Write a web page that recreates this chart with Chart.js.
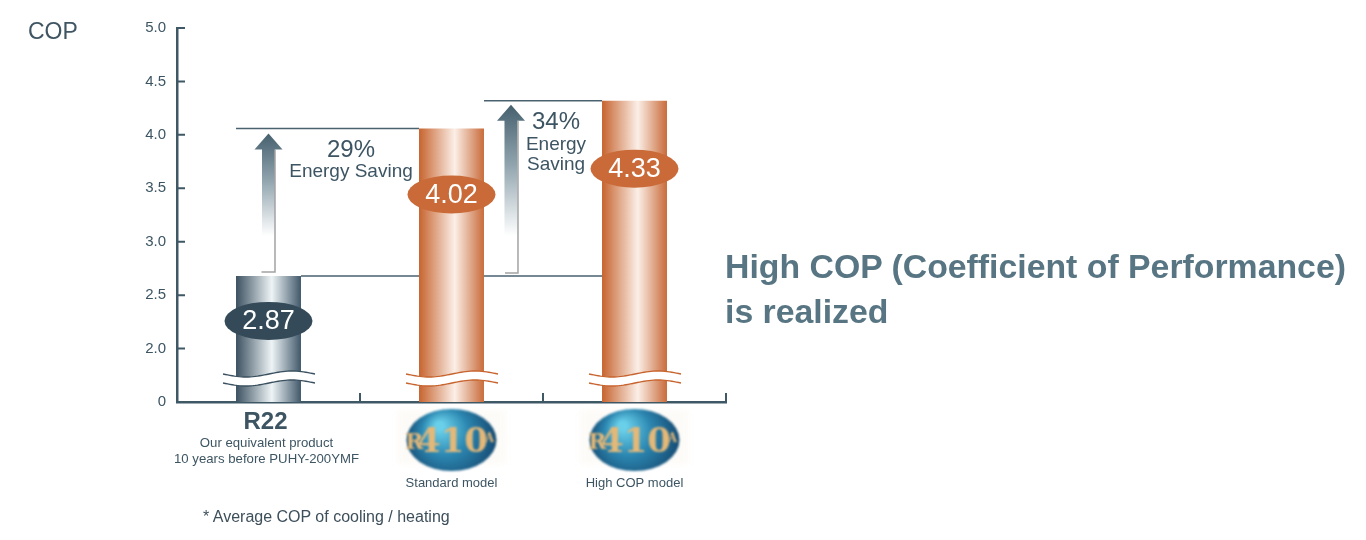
<!DOCTYPE html>
<html>
<head>
<meta charset="utf-8">
<script src="https://cdn.jsdelivr.net/npm/chart.js@4/dist/chart.umd.min.js"></script>
<style>
  html, body { margin: 0; padding: 0; background: #fff; }
  #wrap { position: relative; width: 1366px; height: 540px; overflow: hidden; font-family: "Liberation Sans", Arial, sans-serif; }
  #wrap canvas { position: absolute; left: 0; top: 0; }
  .copLabel { position: absolute; left: 28px; top: 18px; font-size: 23px; color: #3f5563; }
  .headline { position: absolute; left: 725px; top: 244px; font-size: 33.8px; font-weight: bold; color: #587583; line-height: 45px; white-space: nowrap; }
  .note { position: absolute; left: 203px; top: 508px; font-size: 16px; color: #3d4f5a; }
</style>
</head>
<body>
<div id="wrap">
  <canvas id="chart" width="1366" height="540"></canvas>
  <div class="copLabel">COP</div>
  <div class="headline">High COP (Coefficient of Performance)<br>is realized</div>
  <div class="note">* Average COP of cooling / heating</div>
</div>
<script>
// categories and values
const categories = ['R22', 'Standard model', 'High COP model'];
const subLabels = [['Our equivalent product', '10 years before PUHY-200YMF'], [], []];
const barValues = [2.68, 4.06, 4.32]; // bar heights as drawn in the picture
const copLabels = ['2.87', '4.02', '4.33'];
const yTicks = [1.5, 2.0, 2.5, 3.0, 3.5, 4.0, 4.5, 5.0];
const yTickLabels = ['0', '2.0', '2.5', '3.0', '3.5', '4.0', '4.5', '5.0'];
const savingTexts = [['29%', 'Energy Saving'], ['34%', 'Energy', 'Saving']];

const FONT = '"Liberation Sans", Arial, sans-serif';
const AXIS = '#3f5866';
const TEXT = '#3d5563';
const SLATE = ['#3b5160', '#eef4f6', '#40586a'];
const COPPER = ['#c7642f', '#fbefe7', '#c96b3a'];
const barColors = [SLATE, COPPER, COPPER];
const ovalColors = ['#344a59', '#c96a38', '#c96a38'];
const ovalOffsets = [45, 66, 68]; // px below bar top

function barBox(chart, i) {
    const x = chart.scales.x;
    const w = (x.right - x.left) / categories.length * 0.355;
    const cx = x.getPixelForValue(i);
    return { left: cx - w / 2, right: cx + w / 2, cx: cx, w: w };
}

function barFill(ctx) {
    const chart = ctx.chart;
    if (!chart.chartArea || !chart.scales.x) return barColors[ctx.dataIndex][0];
    const b = barBox(chart, ctx.dataIndex);
    const c = barColors[ctx.dataIndex];
    const g = chart.ctx.createLinearGradient(b.left, 0, b.right, 0);
    g.addColorStop(0, c[0]);
    g.addColorStop(0.55, c[1]);
    g.addColorStop(1, c[2]);
    return g;
}

function arrow(c, cx, tipY, fadeY) {
    const g = c.createLinearGradient(0, tipY, 0, fadeY);
    g.addColorStop(0, '#46606e');
    g.addColorStop(0.45, '#8fa3ad');
    g.addColorStop(1, 'rgba(255,255,255,1)');
    c.fillStyle = g;
    c.beginPath();
    c.moveTo(cx, tipY);
    c.lineTo(cx + 14, tipY + 16);
    c.lineTo(cx + 6.5, tipY + 16);
    c.lineTo(cx + 6.5, fadeY);
    c.lineTo(cx - 6.5, fadeY);
    c.lineTo(cx - 6.5, tipY + 16);
    c.lineTo(cx - 14, tipY + 16);
    c.closePath();
    c.fill();
}

const decorPlugin = {
    id: 'decor',
    beforeDatasetsDraw(chart) {
        const c = chart.ctx;
        const y = chart.scales.y;
        const b0 = barBox(chart, 0), b1 = barBox(chart, 1), b2 = barBox(chart, 2);
        const t0 = y.getPixelForValue(barValues[0]);
        const t1 = y.getPixelForValue(barValues[1]);
        const t2 = y.getPixelForValue(barValues[2]);
        c.save();
        // reference lines
        c.strokeStyle = '#4a6270';
        c.lineWidth = 1.5;
        c.beginPath();
        c.moveTo(b0.left, t1); c.lineTo(b1.left, t1);
        c.moveTo(b0.right, t0); c.lineTo(b2.left, t0);
        c.moveTo(b1.right, t2); c.lineTo(b2.left, t2);
        c.stroke();
        // arrows
        const a1 = b0.cx, a2 = b1.right + 27;
        arrow(c, a1, t1 + 5, 236);
        arrow(c, a2, t2 + 4, 236);
        // brackets
        c.strokeStyle = '#a3a3a3';
        c.lineWidth = 1.5;
        c.beginPath();
        c.moveTo(a1 + 6.5, t1 + 21); c.lineTo(a1 + 6.5, t0 - 4); c.lineTo(a1 - 7, t0 - 4);
        c.moveTo(a2 + 7, t2 + 20); c.lineTo(a2 + 7, t0 - 3); c.lineTo(a2 - 6, t0 - 3);
        c.stroke();
        // saving texts
        c.fillStyle = TEXT;
        c.textAlign = 'center';
        const m1 = (a1 + 6.5 + b1.left) / 2 + 4;
        c.font = '24px ' + FONT;
        c.fillText(savingTexts[0][0], m1, t1 + 29);
        c.font = '19px ' + FONT;
        c.fillText(savingTexts[0][1], m1, t1 + 49);
        const m2 = (a2 + 7 + b2.left) / 2 - 4;
        c.font = '24px ' + FONT;
        c.fillText(savingTexts[1][0], m2, t2 + 28);
        c.font = '19px ' + FONT;
        c.fillText(savingTexts[1][1], m2, t2 + 49);
        c.fillText(savingTexts[1][2], m2, t2 + 69);
        c.restore();
    },
    afterDatasetsDraw(chart) {
        const c = chart.ctx;
        const y = chart.scales.y;
        const x = chart.scales.x;
        c.save();
        categories.forEach((cat, i) => {
            const b = barBox(chart, i);
            // wavy break
            const L = b.left - 13, R = b.right + 14, base = 374;
            const wave = (t) => 3 * Math.sin(2 * Math.PI * t);
            c.beginPath();
            for (let k = 0; k <= 40; k++) {
                const t = k / 40;
                const px = L + (R - L) * t;
                if (k === 0) c.moveTo(px, base + wave(t)); else c.lineTo(px, base + wave(t));
            }
            for (let k = 40; k >= 0; k--) {
                const t = k / 40;
                c.lineTo(L + (R - L) * t, base + 9 + wave(t));
            }
            c.closePath();
            c.fillStyle = '#fff';
            c.fill();
            c.strokeStyle = barColors[i][0];
            c.lineWidth = 1.4;
            [0, 9].forEach(off => {
                c.beginPath();
                for (let k = 0; k <= 40; k++) {
                    const t = k / 40;
                    const px = L + (R - L) * t;
                    if (k === 0) c.moveTo(px, base + off + wave(t)); else c.lineTo(px, base + off + wave(t));
                }
                c.stroke();
            });
            // value oval
            const oy = y.getPixelForValue(barValues[i]) + ovalOffsets[i];
            c.fillStyle = ovalColors[i];
            c.beginPath();
            c.ellipse(b.cx, oy, 44, 19, 0, 0, Math.PI * 2);
            c.fill();
            c.fillStyle = '#fff';
            c.font = '27px ' + FONT;
            c.textAlign = 'center';
            c.textBaseline = 'middle';
            c.fillText(copLabels[i], b.cx, oy + 1);
            c.textBaseline = 'alphabetic';
        });
        // inward tick marks
        c.strokeStyle = AXIS;
        c.lineWidth = 2;
        c.beginPath();
        yTicks.forEach(v => {
            const py = y.getPixelForValue(v);
            c.moveTo(x.left, py); c.lineTo(x.left + 8, py);
        });
        for (let i = 1; i <= categories.length; i++) {
            const px = x.left + (x.right - x.left) * i / categories.length;
            c.moveTo(px, x.top); c.lineTo(px, x.top - 9);
        }
        c.stroke();
        // category labels
        c.fillStyle = TEXT;
        c.textAlign = 'center';
        const b0 = barBox(chart, 0);
        c.font = 'bold 24px ' + FONT;
        c.fillText(categories[0], b0.cx - 3, 429);
        c.font = '13.2px ' + FONT;
        c.fillText(subLabels[0][0], b0.cx - 2, 447);
        c.fillText(subLabels[0][1], b0.cx - 2, 463);
        for (let i = 1; i < categories.length; i++) {
            const b = barBox(chart, i);
            // R410A logo
            const lx = b.cx, ly = 440;
            c.save();
            c.filter = 'blur(3px)';
            c.fillStyle = 'rgba(252,249,244,0.7)';
            c.fillRect(lx - 54, ly - 30, 108, 54);
            const rg = c.createRadialGradient(lx - 12, ly - 14, 4, lx, ly, 48);
            rg.addColorStop(0, '#6ad0ea');
            rg.addColorStop(0.45, '#2b86b0');
            rg.addColorStop(1, '#14456d');
            c.filter = 'blur(1.2px)';
            c.fillStyle = rg;
            c.beginPath();
            c.ellipse(lx, ly, 45, 31, 0, 0, Math.PI * 2);
            c.fill();
            c.fillStyle = '#e4b878';
            c.font = 'bold 34px "DejaVu Serif", serif';
            c.fillText('410', lx + 1, ly + 12);
            c.font = 'bold 22px "DejaVu Serif", serif';
            c.fillText('R', lx - 37, ly + 9);
            c.font = 'bold 12px "DejaVu Serif", serif';
            c.fillText('A', lx + 38, ly + 2);
            c.restore();
            c.fillStyle = TEXT;
            c.font = '13px ' + FONT;
            c.fillText(categories[i], b.cx, 487);
        }
        c.restore();
    }
};

new Chart(document.getElementById('chart'), {
    type: 'bar',
    data: {
        labels: categories,
        datasets: [{
            data: barValues,
            backgroundColor: barFill,
            borderWidth: 0,
            barPercentage: 0.355,
            categoryPercentage: 1.0
        }]
    },
    options: {
        responsive: false,
        animation: false,
        layout: { padding: { left: 0, top: 28, right: 640, bottom: 0 } },
        plugins: { legend: { display: false }, tooltip: { enabled: false } },
        scales: {
            x: {
                grid: { display: false },
                border: { color: AXIS, width: 2.5 },
                ticks: { display: false },
                afterFit(scale) { scale.height = 138; }
            },
            y: {
                min: 1.5,
                max: 5.0,
                grid: { display: false, drawTicks: false },
                border: { color: AXIS, width: 2.5 },
                afterBuildTicks(scale) { scale.ticks = yTicks.map(v => ({ value: v })); },
                afterFit(scale) { scale.width = 177; },
                ticks: {
                    padding: 11,
                    color: TEXT,
                    font: { family: FONT, size: 15 },
                    callback: (v) => yTickLabels[yTicks.indexOf(v)]
                }
            }
        }
    },
    plugins: [decorPlugin]
});
</script>
</body>
</html>
